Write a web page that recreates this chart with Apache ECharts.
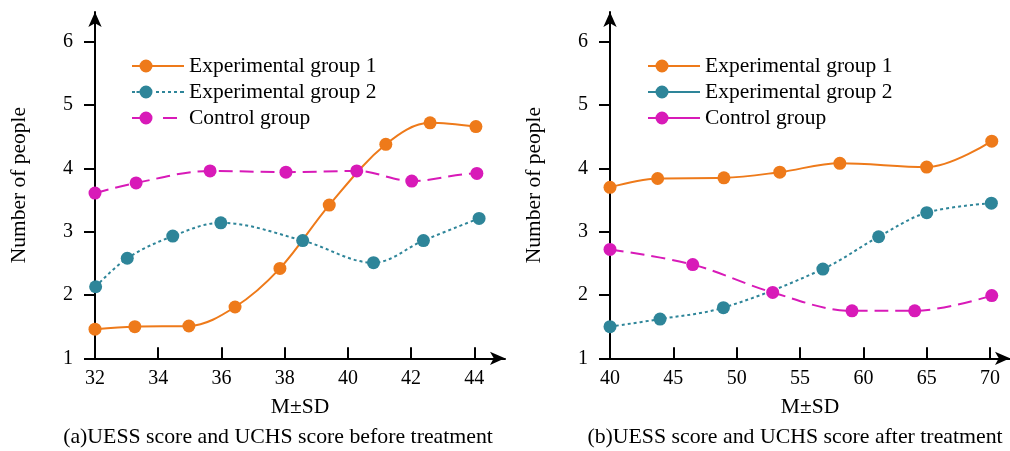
<!DOCTYPE html>
<html>
<head>
<meta charset="utf-8">
<script src="https://cdn.jsdelivr.net/npm/echarts@6/dist/echarts.min.js"></script>
<style>
html,body{margin:0;padding:0;background:#fff;}
#chart{width:1010px;height:451px;}
</style>
</head>
<body>
<div id="chart"></div>
<script>
// ---- Data ----
const seriesNames = ['Experimental group 1', 'Experimental group 2', 'Control group'];

// (a) before treatment
const aG1x = [32, 33.26, 34.97, 36.43, 37.85, 39.41, 41.2, 42.6, 44.05];
const aG1y = [1.46, 1.50, 1.51, 1.81, 2.42, 3.42, 4.38, 4.72, 4.66];
const aG2x = [32.02, 33.02, 34.46, 35.98, 38.57, 40.81, 42.39, 44.15];
const aG2y = [2.13, 2.58, 2.93, 3.14, 2.86, 2.51, 2.86, 3.21];
const aCx = [32, 33.3, 35.64, 38.04, 40.28, 42.02, 44.08];
const aCy = [3.61, 3.77, 3.96, 3.94, 3.96, 3.80, 3.92];

// (b) after treatment
const bG1x = [40, 43.76, 48.99, 53.4, 58.14, 64.99, 70.13];
const bG1y = [3.70, 3.84, 3.85, 3.94, 4.08, 4.02, 4.43];
const bG2x = [40, 43.95, 48.95, 56.8, 61.2, 65.0, 70.1];
const bG2y = [1.50, 1.62, 1.80, 2.41, 2.92, 3.30, 3.45];
const bCx = [40, 46.53, 52.84, 59.1, 64.05, 70.13];
const bCy = [2.72, 2.48, 2.04, 1.75, 1.75, 1.99];

// tick labels
const aXTicks = [32, 34, 36, 38, 40, 42, 44];
const bXTicks = [40, 45, 50, 55, 60, 65, 70];
const yTicks = [1, 2, 3, 4, 5, 6];

const captions = ['(a)UESS score and UCHS score before treatment', '(b)UESS score and UCHS score after treatment'];
const xName = 'M\u00B1SD';
const yName = 'Number of people';

// ---- Styling ----
const FONT = '"Liberation Serif", "Times New Roman", serif';
const colors = ['#EE7A1A', '#2E8599', '#D81AB8'];
const pair = (xs, ys) => xs.map((x, i) => [x, ys[i]]);

const circ = 'M7.5,6.5 A6.5,6.5 0 1 1 20.5,6.5 A6.5,6.5 0 1 1 7.5,6.5 Z ';
const iconSolid = 'path://M0,5.6 L8,5.6 L8,7.4 L0,7.4 Z ' + circ + 'M20,5.6 L52,5.6 L52,7.4 L20,7.4 Z';
const seg = (a, b) => 'M' + a + ',5.6 L' + b + ',5.6 L' + b + ',7.4 L' + a + ',7.4 Z ';
const iconDotted = 'path://' + seg(0, 3) + seg(4.5, 7.5) + circ + seg(24, 27) + seg(30, 33) + seg(36, 39) + seg(42, 45) + seg(48, 52);
const iconDashed = 'path://' + seg(0, 8) + circ + seg(31, 45) + 'M52,6.5 L52,6.5 Z';

const lineTypes = ['solid', [3, 3], [14, 7]];

function axisPair(idx, xMin, xMax, xTicks) {
  const axisLine = { show: true, lineStyle: { color: '#000', width: 2 }, symbol: ['none', 'arrow'], symbolSize: [10, 15] };
  const label = { color: '#000', fontFamily: FONT, fontSize: 20 };
  const nameStyle = { color: '#000', fontFamily: FONT, fontSize: 21.5 };
  const x = {
    type: 'value', gridIndex: idx, min: xMin, max: xMax,
    axisLine: axisLine, splitLine: { show: false },
    axisTick: { show: true, inside: true, length: 11, lineStyle: { color: '#000', width: 2 }, customValues: xTicks },
    axisLabel: Object.assign({}, label, { margin: 10, customValues: xTicks }),
    name: xName, nameLocation: 'middle', nameGap: 38, nameTextStyle: nameStyle
  };
  const y = {
    type: 'value', gridIndex: idx, min: 1, max: 6.47,
    axisLine: axisLine, splitLine: { show: false },
    axisTick: { show: true, inside: false, length: 11, lineStyle: { color: '#000', width: 2 }, customValues: yTicks },
    axisLabel: Object.assign({}, label, { margin: 22, customValues: yTicks }),
    name: yName, nameLocation: 'middle', nameGap: 65, nameRotate: 90, nameTextStyle: nameStyle
  };
  return [x, y];
}

const [xa, ya] = axisPair(0, 32, 44.97, aXTicks);
const [xb, yb] = axisPair(1, 40, 71.57, bXTicks);

function mkSeries(name, data, ci, idx, lt) {
  return {
    name: name, type: 'line', xAxisIndex: idx, yAxisIndex: idx,
    data: data, smooth: 0.35,
    symbol: 'circle', symbolSize: 13, showSymbol: true,
    itemStyle: { color: colors[ci], borderWidth: 0 },
    lineStyle: { color: colors[ci], width: 2, type: lt },
    emphasis: { disabled: true },
    animation: false
  };
}

const aCdata = pair(aCx, aCy);
aCdata.push({ value: [44.43, 3.88], symbol: 'none' });

const legendText = { color: '#000', fontFamily: FONT, fontSize: 21.5, padding: [0, 0, 0, 0] };

const option = {
  backgroundColor: '#fff',
  animation: false,
  grid: [
    { left: 95, top: 12, width: 410, bottom: 92.7 },
    { left: 610, top: 12, width: 400, bottom: 92.7 }
  ],
  xAxis: [xa, xb],
  yAxis: [ya, yb],
  legend: [
    {
      left: 127, top: 50, orient: 'vertical', itemWidth: 52, itemHeight: 13, itemGap: 4,
      textStyle: legendText, itemStyle: { borderWidth: 0 }, selectedMode: false,
      data: [
        { name: seriesNames[0] + ' ', icon: iconSolid },
        { name: seriesNames[1] + ' ', icon: iconDotted },
        { name: seriesNames[2] + ' ', icon: iconDashed }
      ]
    },
    {
      left: 643, top: 50, orient: 'vertical', itemWidth: 52, itemHeight: 13, itemGap: 4,
      textStyle: legendText, itemStyle: { borderWidth: 0 }, selectedMode: false,
      data: [
        { name: seriesNames[0], icon: iconSolid },
        { name: seriesNames[1], icon: iconSolid },
        { name: seriesNames[2], icon: iconSolid }
      ]
    }
  ],
  series: [
    mkSeries(seriesNames[2] + ' ', aCdata, 2, 0, lineTypes[2]),
    mkSeries(seriesNames[1] + ' ', pair(aG2x, aG2y), 1, 0, lineTypes[1]),
    mkSeries(seriesNames[0] + ' ', pair(aG1x, aG1y), 0, 0, lineTypes[0]),
    mkSeries(seriesNames[2], pair(bCx, bCy), 2, 1, lineTypes[2]),
    mkSeries(seriesNames[1], pair(bG2x, bG2y), 1, 1, lineTypes[1]),
    mkSeries(seriesNames[0], pair(bG1x, bG1y), 0, 1, lineTypes[0])
  ],
  graphic: [
    { type: 'text', x: 278, y: 437, style: { text: captions[0], fill: '#000', font: '21.8px ' + FONT, textAlign: 'center', textVerticalAlign: 'middle' } },
    { type: 'text', x: 795, y: 437, style: { text: captions[1], fill: '#000', font: '21.8px ' + FONT, textAlign: 'center', textVerticalAlign: 'middle' } }
  ]
};

const chart = echarts.init(document.getElementById('chart'), null, { renderer: 'canvas' });
chart.setOption(option);
</script>
</body>
</html>
